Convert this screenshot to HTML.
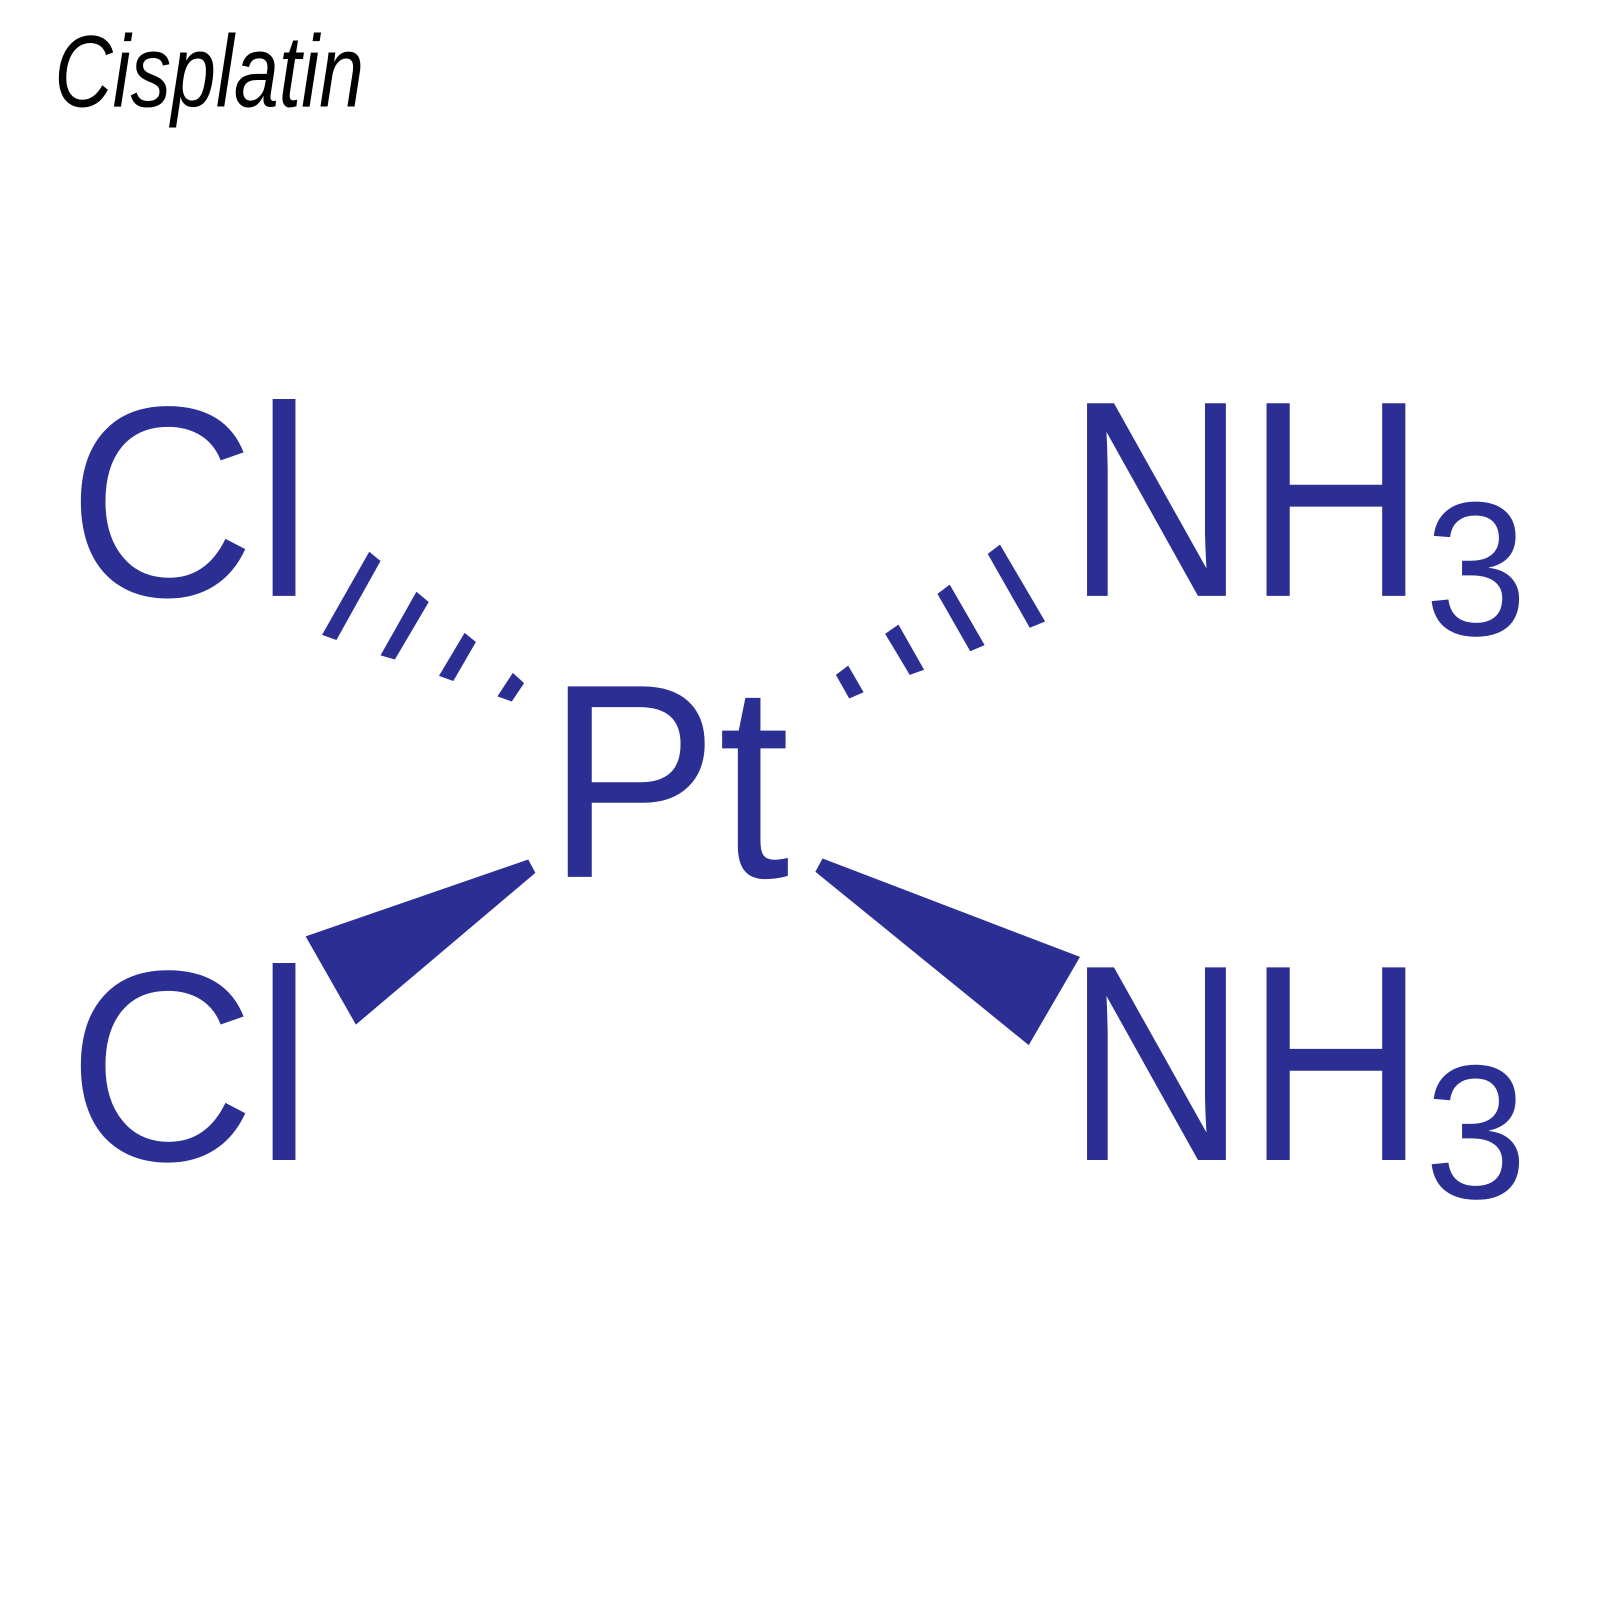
<!DOCTYPE html>
<html><head><meta charset="utf-8"><style>html,body{margin:0;padding:0;background:#fff}svg{display:block}</style></head>
<body>
<svg width="1600" height="1600" viewBox="0 0 1560 1560" xmlns="http://www.w3.org/2000/svg">
<rect width="1560" height="1560" fill="#fff"/>
<text x="53" y="104" font-family="Liberation Sans, sans-serif" font-style="italic" font-size="100" textLength="302" lengthAdjust="spacingAndGlyphs" fill="#000">Cisplatin</text>
<g fill="#2b2e93" font-family="Liberation Sans, Arial, sans-serif">
<text x="66" y="581" font-size="265" textLength="239" lengthAdjust="spacingAndGlyphs">Cl</text>
<text x="66" y="1131" font-size="265" textLength="239" lengthAdjust="spacingAndGlyphs">Cl</text>
<text x="1040" y="581" font-size="273" textLength="350" lengthAdjust="spacingAndGlyphs">NH</text>
<text x="1389" y="619" font-size="186" textLength="100" lengthAdjust="spacingAndGlyphs">3</text>
<text x="1040" y="1131" font-size="273" textLength="350" lengthAdjust="spacingAndGlyphs">NH</text>
<text x="1389" y="1168" font-size="186" textLength="100" lengthAdjust="spacingAndGlyphs">3</text>
<text x="533" y="855" font-size="270" textLength="237" lengthAdjust="spacingAndGlyphs">Pt</text>
<polygon points="314,619 328,624 371,547 360,538"/>
<polygon points="371,639 385,643 418,587 406,577"/>
<polygon points="428,659 442,664 464,626 453,617"/>
<polygon points="485,679 499,684 511,666 500,656"/>
<polygon points="963,540 975,531 1019,606 1004,612"/>
<polygon points="914,579 926,570 960,629 946,635"/>
<polygon points="863,618 876,609 901,653 887,658"/>
<polygon points="815,658 827,649 842,675 828,681"/>
<polygon points="298,913 347,999 522,851 515,838"/>
<polygon points="795,850 802,837 1053,933 1003,1019"/>
</g>
</svg>
</body></html>
